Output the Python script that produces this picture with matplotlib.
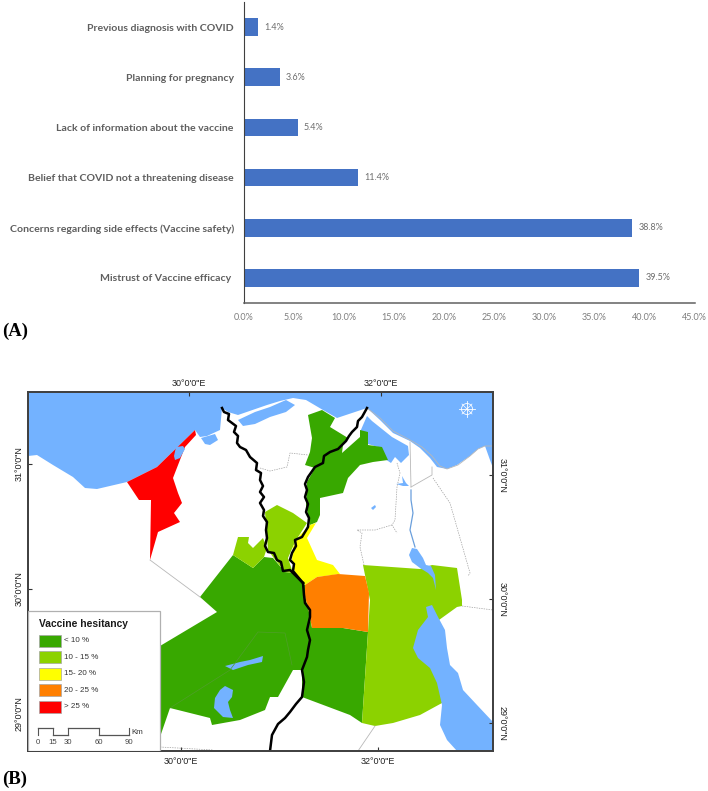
import matplotlib
matplotlib.use('Agg')
import matplotlib.pyplot as plt
from matplotlib.patches import Polygon, Rectangle, Circle

W, H = 708, 791

# panel A
causes = ['Previous diagnosis with COVID', 'Planning for pregnancy',
          'Lack of information about the vaccine',
          'Belief that COVID not a threatening disease',
          'Concerns regarding side effects (Vaccine safety)',
          'Mistrust of Vaccine efficacy ']
percents = [1.4, 3.6, 5.4, 11.4, 38.8, 39.5]
pct_ticks = [0, 5, 10, 15, 20, 25, 30, 35, 40, 45]

sea = [(28, 392), (493, 392), (493, 468), (490, 460), (485, 446), (478, 449), (470, 456), (457, 465),
       (447, 469), (437, 467), (430, 458), (420, 448), (410, 441), (393, 433), (380, 420), (367, 408),
       (352, 413), (337, 418), (323, 410), (306, 400), (293, 398), (280, 401), (267, 405), (238, 415),
       (228, 412), (222, 408), (220, 430), (207, 436), (200, 437), (195, 430), (157, 467), (127, 482),
       (97, 489), (85, 488), (73, 477), (53, 465), (37, 455), (28, 456)]
burullus = [(238, 420), (255, 412), (270, 407), (286, 400), (295, 405), (286, 412), (270, 417), (255, 424), (243, 426)]
idku = [(201, 438), (215, 434), (218, 440), (210, 445), (205, 444)]
manzala = [(367, 416), (372, 421), (392, 437), (408, 446), (409, 455), (401, 463), (395, 457), (391, 463),
           (385, 459), (378, 447), (368, 444), (360, 432)]
maryut = [(176, 447), (183, 446), (185, 449), (180, 458), (175, 460), (174, 456)]
small_lake = [(371, 508), (375, 505), (376, 507), (373, 510)]
timsah = [(402, 476), (406, 483), (409, 486), (403, 486), (396, 484), (403, 483)]
bitter = [(412, 548), (417, 549), (423, 558), (426, 565), (431, 566), (435, 575), (436, 590), (433, 578),
          (428, 573), (420, 568), (412, 562), (409, 555)]
gulf = [(426, 607), (432, 605), (438, 617), (445, 630), (447, 648), (450, 665), (458, 673), (463, 690),
        (477, 705), (493, 722), (493, 751), (457, 751), (447, 740), (440, 725), (442, 705), (437, 683),
        (430, 668), (418, 658), (413, 648), (418, 630), (428, 617)]
qarun = [(225, 666), (240, 662), (250, 660), (263, 656), (262, 662), (248, 665), (233, 670)]
rayan = [(215, 698), (220, 690), (225, 686), (233, 690), (232, 697), (228, 702), (230, 710), (233, 718),
         (223, 717), (214, 708)]

red_area = [(195, 430), (196, 435), (185, 447), (173, 478), (178, 493), (182, 503), (174, 513), (180, 522),
            (158, 532), (150, 560), (151, 500), (139, 500), (127, 482), (157, 467)]
orange_area = [(305, 585), (317, 577), (338, 574), (365, 576), (369, 593), (368, 632), (343, 628), (312, 628),
               (308, 607), (305, 597)]
yellow_area = [(310, 525), (316, 523), (307, 538), (317, 560), (333, 565), (340, 574), (317, 577), (305, 585),
               (295, 573), (292, 560), (293, 547), (300, 535)]
light_nile = [(265, 512), (277, 505), (293, 513), (307, 523), (295, 542), (288, 558), (293, 573), (285, 572),
              (273, 557), (268, 550)]
light_patch = [(238, 537), (249, 537), (248, 543), (253, 548), (263, 538), (267, 548), (264, 557), (253, 568), (233, 555)]
light_east = [(363, 565), (420, 569), (432, 565), (457, 568), (462, 600), (462, 606), (457, 607), (439, 620),
              (442, 703), (420, 715), (393, 723), (375, 726), (362, 723), (368, 632), (370, 600)]
green_south = [(233, 555), (253, 568), (264, 557), (273, 558), (285, 572), (293, 573), (305, 585), (305, 597),
               (308, 607), (312, 628), (343, 628), (368, 632), (362, 723), (350, 715), (302, 697), (302, 670),
               (293, 670), (278, 697), (270, 697), (265, 710), (240, 720), (212, 725), (210, 718), (170, 708),
               (160, 737), (130, 737), (130, 665), (160, 646), (217, 612), (200, 597)]
green_delta = [(308, 415), (322, 410), (335, 418), (330, 427), (348, 438), (343, 445), (342, 453), (360, 437),
               (360, 430), (368, 432), (368, 445), (382, 447), (388, 460), (373, 462), (360, 465), (348, 478),
               (343, 493), (320, 498), (320, 515), (317, 522), (310, 525), (306, 505), (307, 482), (315, 468),
               (305, 465), (310, 452), (312, 438)]

rosetta = [(222, 408), (224, 412), (229, 414), (228, 420), (236, 426), (234, 432), (238, 436), (237, 443),
           (240, 447), (246, 450), (250, 457), (257, 463), (256, 470), (261, 473), (260, 480), (263, 486),
           (260, 492), (264, 497), (260, 503), (264, 510), (263, 516), (267, 522), (266, 530), (267, 538),
           (265, 546), (268, 552), (274, 553), (277, 560), (281, 562), (283, 571), (290, 570), (296, 576), (303, 583)]
damietta = [(303, 583), (293, 571), (294, 564), (290, 560), (292, 553), (296, 546), (295, 540), (302, 537),
            (308, 527), (309, 518), (306, 512), (308, 504), (305, 497), (307, 490), (305, 484), (308, 477),
            (315, 467), (323, 463), (324, 456), (330, 452), (338, 449), (346, 441), (349, 436), (352, 432),
            (357, 427), (358, 421), (362, 417), (367, 408)]
nile = [(303, 583), (304, 595), (305, 603), (310, 610), (310, 617), (307, 630), (310, 640), (308, 650),
        (307, 657), (302, 670), (304, 682), (302, 697), (296, 704), (290, 712), (285, 718), (278, 724),
        (272, 735), (270, 751)]

grey_lines = [[(150, 560), (200, 597)], [(410, 442), (411, 487)], [(411, 487), (432, 475), (432, 467)],
              [(375, 726), (358, 751)],
              [(367, 408), (380, 418), (393, 431), (410, 440), (422, 447), (432, 456), (440, 466), (447, 469),
               (458, 465), (470, 456), (478, 449), (485, 446), (493, 446)]]
dotted_lines = [[(397, 463), (400, 473), (397, 487), (395, 520), (392, 525), (397, 533)],
                [(392, 525), (375, 530), (357, 530), (362, 533), (360, 547), (364, 565)],
                [(433, 478), (450, 503), (470, 573), (468, 576)],
                [(462, 606), (493, 610)],
                [(260, 468), (270, 471), (287, 467), (290, 453), (308, 455)],
                [(160, 747), (213, 750)]]
fayoum_edge = [(170, 708), (230, 670), (258, 632), (285, 633), (292, 665)]
canal = [(411, 490), (411, 500), (413, 513), (410, 530), (415, 547)]

legend_labels = ['< 10 %', '10 - 15 %', '15- 20 %', '20 - 25 %', '> 25 %']
legend_colors = ['#38A800', '#8CD200', '#FFFF00', '#FF7F00', '#FF0000']
scale_km = [0, 15, 30, 60, 90]
scale_x = [38, 53, 68, 99, 129]

fig = plt.figure(figsize=(W / 100, H / 100), dpi=100)
fig.patch.set_facecolor('white')


def px_axes(l, t, r, b):
    return fig.add_axes([l / W, 1 - b / H, (r - l) / W, (b - t) / H])


# ---- bars
ax = px_axes(243.5, 2, 694.5, 303)
ypos = list(range(len(causes)))
bars = ax.barh(ypos, percents, height=0.35, color='#4472C4')
ax.set_xlim(0, 45)
ax.set_ylim(5.5, -0.5)
ax.set_yticks(ypos)
ax.set_yticklabels(causes, family='Lato', fontweight='bold', fontsize=7.55, color='#5f5f5f')
ax.set_xticks(pct_ticks)
ax.set_xticklabels(['%.1f%%' % v for v in pct_ticks], family='Lato', fontsize=6.5, color='#7f7f7f')
ax.tick_params(length=0)
ax.tick_params(axis='y', pad=7)
ax.tick_params(axis='x', pad=7)
ax.bar_label(bars, labels=['%.1f%%' % v for v in percents], padding=4.5, family='Lato', fontsize=6.5, color='#6e6e6e')
for s in ['top', 'right']:
    ax.spines[s].set_visible(False)
ax.spines['left'].set_color('#404040')
ax.spines['bottom'].set_color('#606060')
ax.spines['bottom'].set_linewidth(1.1)

fig.text(2 / W, 1 - 331 / H, '(A)', family='Liberation Serif', fontweight='bold', fontsize=13.5, va='center')
fig.text(2 / W, 1 - 779 / H, '(B)', family='Liberation Serif', fontweight='bold', fontsize=13.5, va='center')

# ---- map
m = px_axes(27.7, 392, 493, 751)
m.set_xlim(27.7, 493)
m.set_ylim(751, 392)
BLUE = '#73B2FF'
for poly, col in [(sea, BLUE), (burullus, BLUE), (idku, BLUE), (manzala, BLUE),
                  (green_south, legend_colors[0]), (green_delta, legend_colors[0]),
                  (light_nile, legend_colors[1]), (light_patch, legend_colors[1]), (light_east, legend_colors[1]),
                  (yellow_area, legend_colors[2]), (orange_area, legend_colors[3]), (red_area, legend_colors[4]),
                  (maryut, BLUE), (small_lake, BLUE), (timsah, BLUE), (bitter, BLUE), (gulf, BLUE),
                  (qarun, BLUE), (rayan, BLUE)]:
    m.add_patch(Polygon(poly, closed=True, facecolor=col, edgecolor='none'))

for line in grey_lines:
    m.plot([p[0] for p in line], [p[1] for p in line], color='#b8b8b8', lw=0.6)
for line in dotted_lines:
    m.plot([p[0] for p in line], [p[1] for p in line], color='#a0a0a0', lw=0.5, ls=(0, (2, 1.5)))
m.plot([p[0] for p in fayoum_edge], [p[1] for p in fayoum_edge], color='#4f9f2a', lw=0.5)
m.plot([p[0] for p in canal], [p[1] for p in canal], color='#6a9fdc', lw=0.9)
for line in [rosetta, damietta, nile]:
    m.plot([p[0] for p in line], [p[1] for p in line], color='black', lw=1.8, solid_joinstyle='round')

# compass
m.add_patch(Circle((467, 409), 5.5, facecolor='none', edgecolor='white', lw=0.6))
m.plot([459, 475], [409, 409], color='white', lw=0.6)
m.plot([467, 467], [401, 417], color='white', lw=0.6)
m.plot([462, 472], [404, 414], color='white', lw=0.5)
m.plot([462, 472], [414, 404], color='white', lw=0.5)

ticklab = dict(family='Liberation Sans', fontsize=6.5, color='#222222')
m.set_xticks([181, 378])
m.set_xticklabels(['30°0\'0"E', '32°0\'0"E'], **ticklab)
m.set_yticks([464, 589, 714])
m.set_yticklabels(['31°0\'0"N', '30°0\'0"N', '29°0\'0"N'], rotation=90, va='center', **ticklab)
m.tick_params(axis='both', direction='in', length=3, width=0.8, pad=4, color='#333333')
m.tick_params(axis='y', pad=3)

top = m.twiny()
top.set_xlim(m.get_xlim())
top.set_xticks([189, 381])
top.set_xticklabels(['30°0\'0"E', '32°0\'0"E'], **ticklab)
top.tick_params(direction='in', length=3, width=0.8, pad=3, color='#333333')
right = m.twinx()
right.set_ylim(m.get_ylim())
right.set_yticks([475, 599, 723])
right.set_yticklabels(['31°0\'0"N', '30°0\'0"N', '29°0\'0"N'], rotation=270, va='center', **ticklab)
right.tick_params(direction='in', length=3, width=0.8, pad=3, color='#333333')
for a in [m, top, right]:
    for s in a.spines.values():
        s.set_color('#404040')
        s.set_linewidth(1.1)

# legend box is drawn by hand because the scale bar sits in it too
lg = right
lg.add_patch(Rectangle((27.7, 611), 132.3, 140, facecolor='white', edgecolor='#b0b0b0', lw=0.9, zorder=5))
lg.text(39, 624, 'Vaccine hesitancy', family='Liberation Sans', fontweight='bold', fontsize=7.4, color='#1a1a1a',
        va='center', zorder=6)
for i, (lab, col) in enumerate(zip(legend_labels, legend_colors)):
    yy = 634.5 + i * 16.5
    lg.add_patch(Rectangle((39, yy), 22, 12, facecolor=col, edgecolor='#a5a5a5', lw=0.5, zorder=6))
    lg.text(64.5, yy + 6.2, lab, family='Liberation Sans', fontsize=5.8, color='#333333', va='center', zorder=6)

# scale bar
for i in range(len(scale_x) - 1):
    yy = 727.5 if i % 2 == 0 else 735
    lg.plot([scale_x[i], scale_x[i + 1]], [yy, yy], color='#555555', lw=0.9, zorder=6)
for x, km in zip(scale_x, scale_km):
    lg.plot([x, x], [727.5, 735], color='#555555', lw=0.8, zorder=6)
    lg.text(x, 742, str(km), family='Liberation Sans', fontsize=5.6, color='#444444', ha='center', va='center', zorder=6)
lg.text(131, 732, 'Km', family='Liberation Sans', fontsize=5.8, color='#333333', va='center', zorder=6)

fig.savefig('out.png', dpi=100)
